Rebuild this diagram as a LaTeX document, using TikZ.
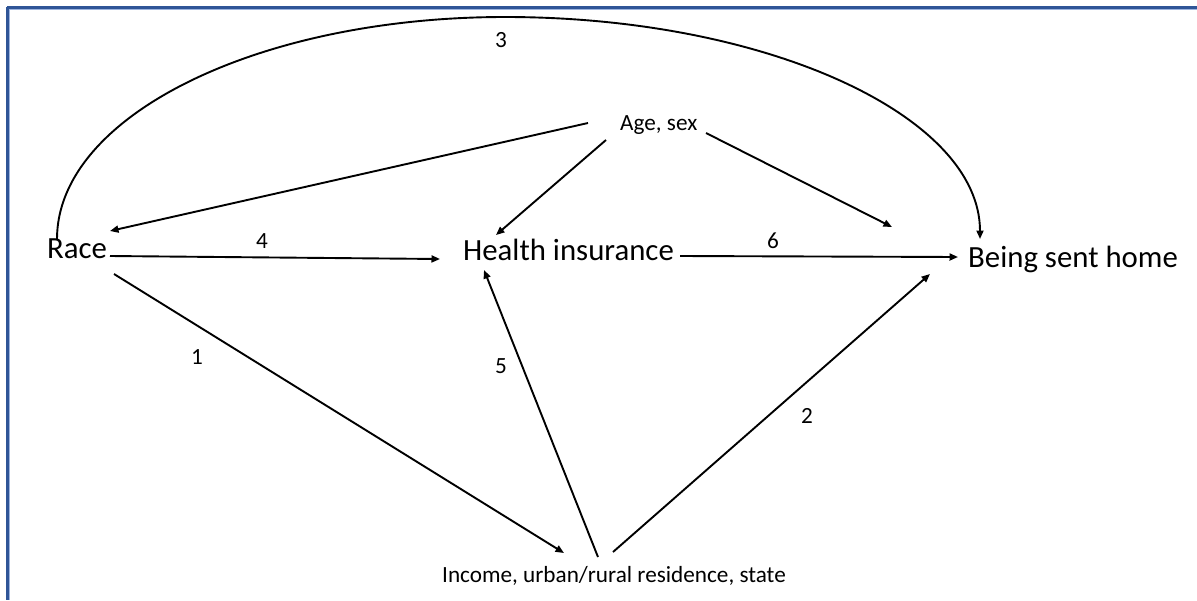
\documentclass[tikz,border=0pt]{standalone}
\usepackage{fontspec}
\setmainfont{Carlito}
\usetikzlibrary{arrows.meta}
\definecolor{framedark}{HTML}{2F5597}
\definecolor{framelight}{HTML}{9DB4DE}
\tikzset{
  bigtext/.style={inner sep=0pt, anchor=base west, font=\fontsize{30.8}{36}\selectfont},
  smalltext/.style={inner sep=0pt, anchor=base west, font=\fontsize{23.2}{28}\selectfont},
  numlabel/.style={inner sep=0pt, font=\fontsize{23.2}{28}\selectfont},
  arr/.style={line width=1.9pt, -{Triangle[length=8.5pt,width=7pt]}},
}
\begin{document}
\begin{tikzpicture}[x=1pt,y=-1pt]
  \useasboundingbox (0,0) rectangle (1197,600);
  \fill[white] (0,0) rectangle (1197,600);

  % frame along the top and left edges
  \draw[framedark, line width=2.8pt] (7.3,7.3) -- (1197,7.3);
  \draw[framedark, line width=2.8pt] (7.3,7.3) -- (7.3,600);
  \draw[framelight, line width=1.2pt] (9.2,9.2) -- (1197,9.2);
  \draw[framelight, line width=1.2pt] (9.2,9.2) -- (9.2,600);

  % variables
  \node[bigtext]   (race)   at (47,258)  {Race};
  \node[bigtext]   (health) at (463,260) {Health insurance};
  \node[bigtext]   (home)   at (968,267) {Being sent home};
  \node[smalltext] (age)    at (620,130) {Age, sex};
  \node[smalltext] (income) at (442,582) {Income, urban/rural residence, state};

  % path numbers
  \node[numlabel] (l1) at (197,357) {1};
  \node[numlabel] (l2) at (807,416) {2};
  \node[numlabel] (l3) at (501,40)  {3};
  \node[numlabel] (l4) at (262,241) {4};
  \node[numlabel] (l5) at (501,366) {5};
  \node[numlabel] (l6) at (773,241) {6};

  % direct paths
  \draw[arr] ([shift={(63,-2)}]race.base west) -- ([shift={(-23,-1)}]health.base west);
  \draw[arr] ([shift={(217,-4)}]health.base west) -- ([shift={(-10,-10)}]home.base west);

  % from age, sex
  \draw[arr] ([shift={(-32,-7)}]age.base west) -- ([shift={(63,-27)}]race.base west);
  \draw[arr] ([shift={(-14,10)}]age.base west) -- ([shift={(33,-25)}]health.base west);
  \draw[arr] ([shift={(86,3)}]age.base west) -- ([shift={(-76,-40)}]home.base west);

  % through income, residence, state
  \draw[arr] ([shift={(67,16)}]race.base west) -- ([shift={(122,-29)}]income.base west);
  \draw[arr] ([shift={(156,-25)}]income.base west) -- ([shift={(21,10)}]health.base west);
  \draw[arr] ([shift={(171,-30)}]income.base west) -- ([shift={(-38,7)}]home.base west);

  % arc over the top from race to being sent home
  \draw[arr] ([shift={(10,-19)}]race.base west)
     .. controls +(0,-123) and +(-247,0) .. (505,17)
     .. controls +(262,0) and +(0,-123) .. ([shift={(12,-28)}]home.base west);
\end{tikzpicture}
\end{document}
